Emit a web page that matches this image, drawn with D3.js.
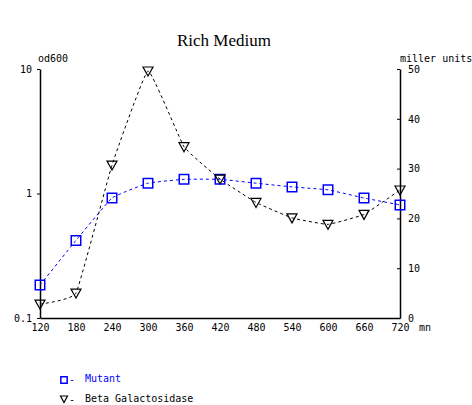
<!DOCTYPE html>
<html>
<head>
<meta charset="utf-8">
<script src="https://cdn.jsdelivr.net/npm/d3@7"></script>
<style>
  body { margin: 0; background: #fff; }
  text { font-family: "DejaVu Sans Mono", monospace; font-size: 10px; }
</style>
</head>
<body>
<script>
// Chart data
var times = [120, 180, 240, 300, 360, 420, 480, 540, 600, 660, 720];
var mutantOd = [0.184, 0.42, 0.92, 1.21, 1.30, 1.30, 1.21, 1.13, 1.07, 0.92, 0.81];
var betaGal = [2.8, 5.0, 30.7, 49.6, 34.4, 27.9, 23.2, 20.1, 18.8, 20.8, 25.7];
var leftTicks = [0.1, 1, 10];
var rightTicks = [0, 10, 20, 30, 40, 50];

var svgWidth = 472;
var svgHeight = 405;

var svg = d3.select("body")
  .append("svg")
  .attr("width", svgWidth)
  .attr("height", svgHeight);

// scales
var x = d3.scaleLinear().domain([120, 720]).range([40, 400]);
var yLeft = d3.scaleLog().domain([0.1, 10]).range([318, 69]);
var yRight = d3.scaleLinear().domain([0, 50]).range([318, 69]);

// title
svg.append("text")
  .attr("x", 224)
  .attr("y", 46)
  .attr("text-anchor", "middle")
  .style("font-family", "'Liberation Serif', serif")
  .style("font-size", "17px")
  .text("Rich Medium");

// left axis
var leftAxis = d3.axisLeft(yLeft)
  .tickValues(leftTicks)
  .tickFormat(d3.format("~g"))
  .tickSize(3)
  .tickSizeOuter(0);
var gl = svg.append("g").attr("transform", "translate(40,0)").call(leftAxis);
gl.select(".domain").attr("stroke-width", 1.5);
gl.selectAll("text").attr("x", -8).style("font-family", "'DejaVu Sans Mono', monospace").style("font-size", "10px");

svg.append("text").attr("x", 38).attr("y", 62).text("od600");

// right axis (ticks point left of the line)
var rightAxis = d3.axisRight(yRight)
  .tickValues(rightTicks)
  .tickSize(-3)
  .tickSizeOuter(0);
var gr = svg.append("g").attr("transform", "translate(400,0)").call(rightAxis);
gr.select(".domain").attr("stroke-width", 1.5);
gr.selectAll("text").attr("x", 8).style("font-family", "'DejaVu Sans Mono', monospace").style("font-size", "10px");

svg.append("text").attr("x", 400).attr("y", 62).text("miller units");

// bottom axis
var bottomAxis = d3.axisBottom(x)
  .tickValues(times)
  .tickSize(0)
  .tickSizeOuter(0);
var gb = svg.append("g").attr("transform", "translate(0,318)").call(bottomAxis);
gb.select(".domain").attr("stroke-width", 1.5);
gb.selectAll("text").attr("y", 6).style("font-family", "'DejaVu Sans Mono', monospace").style("font-size", "10px");

svg.append("text").attr("x", 419).attr("y", 331).text("mn");

// lines
var lineLeft = d3.line()
  .x(function(d, i) { return x(times[i]); })
  .y(function(d) { return yLeft(d); })
  .curve(d3.curveCardinal.tension(0.7));

var lineRight = d3.line()
  .x(function(d, i) { return x(times[i]); })
  .y(function(d) { return yRight(d); })
  .curve(d3.curveCardinal.tension(0.7));

svg.append("path")
  .attr("d", lineLeft(mutantOd))
  .attr("fill", "none")
  .attr("stroke", "#0000ff")
  .attr("stroke-width", 1)
  .attr("stroke-dasharray", "3,3");

svg.append("path")
  .attr("d", lineRight(betaGal))
  .attr("fill", "none")
  .attr("stroke", "#000")
  .attr("stroke-width", 1)
  .attr("stroke-dasharray", "3,3");

// markers
var square = d3.symbol().type(d3.symbolSquare).size(90);
var tri = "M-5,-4L5,-4L0,5Z";

svg.selectAll(".sq")
  .data(mutantOd)
  .enter()
  .append("path")
  .attr("class", "sq")
  .attr("d", square)
  .attr("transform", function(d, i) { return "translate(" + x(times[i]) + "," + yLeft(d) + ")"; })
  .attr("fill", "none")
  .attr("stroke", "#0000ff")
  .attr("stroke-width", 1.5);

svg.selectAll(".tri")
  .data(betaGal)
  .enter()
  .append("path")
  .attr("class", "tri")
  .attr("d", tri)
  .attr("transform", function(d, i) { return "translate(" + x(times[i]) + "," + yRight(d) + ")"; })
  .attr("fill", "none")
  .attr("stroke", "#000")
  .attr("stroke-width", 1.2);

// legend
var smallSquare = d3.symbol().type(d3.symbolSquare).size(40);
var smallTri = "M-3.5,-3L3.5,-3L0,3.5Z";
var legend = svg.append("g");
legend.append("path")
  .attr("d", smallSquare)
  .attr("transform", "translate(64,380)")
  .attr("fill", "none")
  .attr("stroke", "#0000ff")
  .attr("stroke-width", 1.5);
legend.append("text").attr("x", 69).attr("y", 383).attr("fill", "#0000ff").text("-");
legend.append("text").attr("x", 85).attr("y", 382).attr("fill", "#0000ff").text("Mutant");

legend.append("path")
  .attr("d", smallTri)
  .attr("transform", "translate(64,399)")
  .attr("fill", "none")
  .attr("stroke", "#000")
  .attr("stroke-width", 1.2);
legend.append("text").attr("x", 69).attr("y", 403).text("-");
legend.append("text").attr("x", 85).attr("y", 402).text("Beta Galactosidase");
</script>
</body>
</html>
